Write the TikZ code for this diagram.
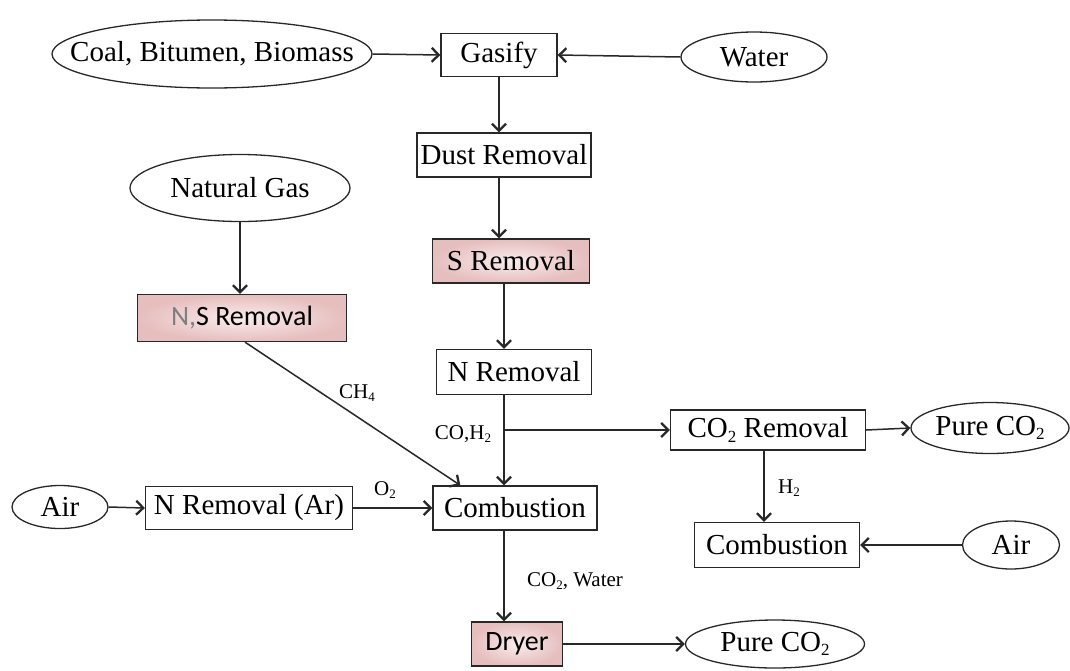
\documentclass[tikz,border=0pt]{standalone}
\usepackage{fontspec}
\setmainfont{Liberation Serif}
\newfontfamily\calib{Carlito}
\usetikzlibrary{shapes.geometric,arrows.meta,calc}
\definecolor{pinkin}{RGB}{250,236,236}
\definecolor{pinkout}{RGB}{230,190,190}
\definecolor{edge}{RGB}{40,40,40}
\newcommand{\sub}[1]{\raisebox{-0.35ex}{\fontsize{17}{17}\selectfont #1}}
\newcommand{\lsub}[1]{\raisebox{-0.35ex}{\fontsize{13}{13}\selectfont #1}}
\newcommand{\tx}[1]{\makebox[0pt]{#1}}
\begin{document}
\begin{tikzpicture}[x=1pt,y=-1pt,
  box/.style={draw=edge, line width=1.3pt, rectangle, inner sep=0pt, font=\fontsize{29}{31}\selectfont},
  shbox/.style={box, inner color=pinkin, outer color=pinkout},
  ell/.style={draw=edge, line width=1.3pt, ellipse, inner sep=0pt, font=\fontsize{29}{31}\selectfont},
  lbl/.style={font=\fontsize{21}{24}\selectfont, inner sep=0pt},
  conn/.style={draw=edge, line width=1.5pt, -{Straight Barb[length=7,width=14,line width=2.3pt]}}]
\useasboundingbox (0,0) rectangle (1070,670);
% nodes
\node[ell, minimum width=320, minimum height=68] (coal) at (212,54) {\tx{Coal, Bitumen, Biomass}};
\node[box, minimum width=116, minimum height=43] (gasify) at (499,55) {\tx{Gasify}};
\node[ell, minimum width=146, minimum height=50] (water) at (754,57) {\tx{Water}};
\node[box, minimum width=174, minimum height=44] (dust) at (504,155) {\tx{Dust Removal}};
\node[ell, minimum width=220, minimum height=67] (ng) at (240,188) {\tx{Natural Gas}};
\node[shbox, minimum width=157, minimum height=44] (srem) at (511,261) {\tx{S Removal}};
\node[shbox, minimum width=209, minimum height=47, font=\calib\fontsize{28}{30}\selectfont] (nsrem) at (242,318) {\tx{\textcolor{gray}{N,}S Removal}};
\node[box, minimum width=155, minimum height=45] (nrem) at (514,372) {\tx{N Removal}};
\node[box, minimum width=195, minimum height=40] (co2rem) at (768,430) {\tx{CO\sub{2} Removal}};
\node[ell, minimum width=158, minimum height=51] (pure1) at (990,428) {\tx{Pure CO\sub{2}}};
\node[ell, minimum width=96, minimum height=43] (airL) at (60,507) {\tx{Air}};
\node[box, minimum width=207, minimum height=43] (nremar) at (249,508) {\tx{N Removal (Ar)}};
\node[box, minimum width=164, minimum height=44] (comb) at (515,508) {\tx{Combustion}};
\node[box, minimum width=165, minimum height=45] (comb2) at (777,545) {\tx{Combustion}};
\node[ell, minimum width=97, minimum height=48] (airR) at (1011,545) {\tx{Air}};
\node[shbox, minimum width=91, minimum height=44, font=\calib\fontsize{28}{30}\selectfont] (dryer) at (517,644) {\tx{Dryer}};
\node[ell, minimum width=179, minimum height=48] (pure2) at (775,644) {\tx{Pure CO\sub{2}}};
% helper coordinates
\coordinate (vx) at (504,0);
\coordinate (gx) at (499,0);
\coordinate (hx) at (764,0);
\coordinate (chin) at ($(comb.north west)+(28,0)$);
\coordinate (nsout) at ($(nsrem.south)+(3,0)$);
% connectors
\draw[conn] (coal.east) -- (gasify.west);
\draw[conn] (water.west) -- (gasify.east);
\draw[conn] (gasify.south) -- (dust.north -| gx);
\draw[conn] (dust.south -| gx) -- (srem.north -| gx);
\draw[conn] (ng.south) -- (ng.south |- nsrem.north);
\draw[conn] (srem.south -| vx) -- (nrem.north -| vx);
\draw[conn] (nrem.south -| vx) -- (comb.north -| vx);
\draw[conn] (vx |- co2rem.west) -- (co2rem.west);
\draw[conn] (nsout) -- (chin);
\draw[conn] (airL.east) -- (nremar.west);
\draw[conn] (nremar.east) -- (comb.west);
\draw[conn] (co2rem.east) -- (pure1.west);
\draw[conn] (co2rem.south -| hx) -- (comb2.north -| hx);
\draw[conn] (airR.west) -- (comb2.east);
\draw[conn] (comb.south -| vx) -- (dryer.north -| vx);
\draw[conn] (dryer.east) -- (pure2.west);
% labels
\node[lbl] (lch4) at (357,393) {CH\lsub{4}};
\node[lbl] (lco) at (463,434) {CO,H\lsub{2}};
\node[lbl] (lo2) at (385,490) {O\lsub{2}};
\node[lbl] (lh2) at (789,488) {H\lsub{2}};
\node[lbl] (lcw) at (575,581) {CO\lsub{2}, Water};
\end{tikzpicture}
\end{document}
